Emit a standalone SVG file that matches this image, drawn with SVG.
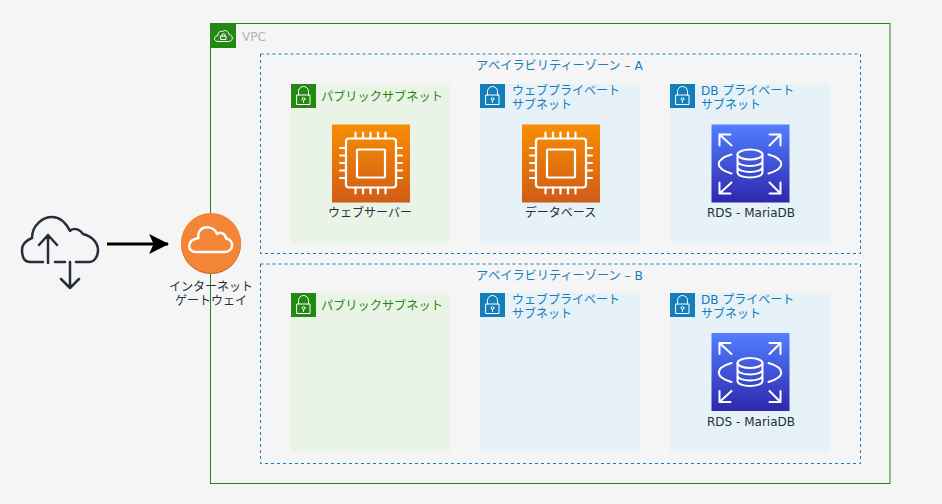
<svg xmlns="http://www.w3.org/2000/svg" width="942" height="504" viewBox="0 0 942 504">
<style>
text{font-family:"DejaVu Sans","Noto Sans CJK JP",sans-serif;font-size:12px}
.az{fill:none;stroke:#147eba;stroke-width:1;stroke-dasharray:3 3}
.azt{fill:#147eba;text-anchor:middle;font-size:12.2px}
.pub{fill:#e9f3e6}.pri{fill:#e6f2f8}
.pubt{fill:#248814;font-size:12.2px}.prit{fill:#147eba}
.lab{fill:#232f3e;text-anchor:middle}
.w{fill:none;stroke:#fff;stroke-linecap:round;stroke-linejoin:round}
.ink{fill:none;stroke:#232f3e;stroke-width:2.5;stroke-linecap:round;stroke-linejoin:round}
</style>
<defs>
<linearGradient id="ec2g" x1="0" y1="1" x2="0" y2="0"><stop offset="0" stop-color="#d05c17"/><stop offset="1" stop-color="#f78e04"/></linearGradient>
<linearGradient id="rdsg" x1="0" y1="1" x2="0" y2="0"><stop offset="0" stop-color="#2e27ad"/><stop offset="1" stop-color="#527fff"/></linearGradient>
<marker id="arrow" markerUnits="userSpaceOnUse" markerWidth="20" markerHeight="20" refX="17" refY="9" orient="auto" viewBox="0 0 18 18"><path d="M0 0L18 9L0 18L4 9Z" fill="#000"/></marker>
<g id="lock"><path class="w" stroke-width="1" d="M7.500 11V7.500A5 5 0 0 1 17.500 7.500V11"/><rect class="w" stroke-width="1" x="6" y="11" width="13" height="9.500"/><circle class="w" cx="12.500" cy="15" r="1.400"/><path class="w" d="M12.500 16.400V18.500"/></g>
<g id="ec2">
<rect width="78" height="78" fill="url(#ec2g)"/>
<rect class="w" stroke-width="2.200" x="14" y="14" width="50" height="49" rx="3"/>
<rect class="w" stroke-width="2.200" x="25" y="25" width="28" height="28" rx="1"/>
<path class="w" stroke-width="2.200" stroke-linecap="butt" d="M23.500 8V14M31 8V14M38.500 8V14M46 8V14M53.500 8V14M23.500 63V69M31 63V69M38.500 63V69M46 63V69M53.500 63V69M8 23.500H14M8 31H14M8 38.500H14M8 46H14M8 53.500H14M64 23.500H70M64 31H70M64 38.500H70M64 46H70M64 53.500H70"/>
</g>
<g id="rds">
<rect width="78" height="78" fill="url(#rdsg)"/>
<path class="w" stroke-width="2" stroke-linecap="butt" d="M8 21V10H19M8 10L20 21M69 21V10H58M69 10L58 21M8 58V69H19M8 69L20 58M69 58V69H58M69 69L58 58"/>
<path class="w" stroke-width="2" d="M20 30C3 35 3 44 20 49M57 30C74 35 74 44 57 49"/>
<ellipse class="w" stroke-width="2" cx="38.500" cy="30" rx="12.500" ry="5"/>
<path class="w" stroke-width="2" d="M26 30V48C26 51 32 53 38.500 53S51 51 51 48V30M26 36.500C26 39.500 32 41.500 38.500 41.500S51 39.500 51 36.500M26 42.500C26 45.500 32 47.500 38.500 47.500S51 45.500 51 42.500"/>
</g>
</defs>
<rect width="942" height="504" fill="#f5f5f5"/>
<g id="vpc">
<rect x="210.500" y="23.500" width="679.500" height="460" fill="none" stroke="#248814"/>
<rect x="211" y="24" width="25" height="24" fill="#248814"/>
<path class="w" stroke-width="1" d="M218 41.500H228.500C233.500 41.500 233.500 35 229 34.500C228.500 30.500 224.500 29.500 222.500 31.500C219.500 30.500 217.500 33 218 35.500C213 36.500 213.500 41.500 218 41.500Z"/>
<rect class="w" stroke-width="1" x="221" y="36" width="5" height="3.500"/>
<path class="w" stroke-width="1" d="M222 36V35.200A1.500 1.500 0 0 1 225 35.200V36"/>
<text x="242" y="41" fill="#aab7b8">VPC</text>
</g>
<g id="az-a"><rect class="az" x="260.500" y="54" width="600" height="199.500"/><text class="azt" x="559.500" y="70">アベイラビリティーゾーン – A</text></g>
<g id="az-b"><rect class="az" x="260.500" y="264" width="600" height="199.500"/><text class="azt" x="559.500" y="280">アベイラビリティーゾーン – B</text></g>
<g id="subnet-pub-a"><rect class="pub" x="291" y="84" width="159" height="159"/><rect x="291" y="84" width="25" height="24" fill="#248814"/><use href="#lock" x="291" y="84"/><text class="pubt" x="321" y="101">パブリックサブネット</text></g>
<g id="subnet-web-a"><rect class="pri" x="480" y="84" width="160" height="159"/><rect x="480" y="84" width="25" height="24" fill="#147eba"/><use href="#lock" x="480" y="84"/><text class="prit" x="512" y="95">ウェブプライベート</text><text class="prit" x="512" y="109">サブネット</text></g>
<g id="subnet-db-a"><rect class="pri" x="670" y="84" width="160" height="159"/><rect x="670" y="84" width="25" height="24" fill="#147eba"/><use href="#lock" x="670" y="84"/><text class="prit" x="701" y="95">DB プライベート</text><text class="prit" x="701" y="109">サブネット</text></g>
<g id="subnet-pub-b"><rect class="pub" x="291" y="293" width="159" height="159"/><rect x="291" y="293" width="25" height="24" fill="#248814"/><use href="#lock" x="291" y="293"/><text class="pubt" x="321" y="310">パブリックサブネット</text></g>
<g id="subnet-web-b"><rect class="pri" x="480" y="293" width="160" height="159"/><rect x="480" y="293" width="25" height="24" fill="#147eba"/><use href="#lock" x="480" y="293"/><text class="prit" x="512" y="304">ウェブプライベート</text><text class="prit" x="512" y="318">サブネット</text></g>
<g id="subnet-db-b"><rect class="pri" x="670" y="293" width="160" height="159"/><rect x="670" y="293" width="25" height="24" fill="#147eba"/><use href="#lock" x="670" y="293"/><text class="prit" x="701" y="304">DB プライベート</text><text class="prit" x="701" y="318">サブネット</text></g>
<g id="web-server"><use href="#ec2" x="332" y="124.500"/><text class="lab" x="370" y="217">ウェブサーバー</text></g>
<g id="database"><use href="#ec2" x="522" y="124.500"/><text class="lab" x="560.500" y="217">データベース</text></g>
<g id="rds-a"><use href="#rds" x="711.500" y="124.500"/><text class="lab" x="751" y="217">RDS - MariaDB</text></g>
<g id="rds-b"><use href="#rds" x="711.500" y="333"/><text class="lab" x="751" y="426">RDS - MariaDB</text></g>
<g id="internet-gateway">
<circle cx="211" cy="244" r="30" fill="#b8652b"/>
<circle cx="211" cy="243" r="30" fill="#f58536"/>
<path class="w" stroke-width="2.500" d="M196 252H224C234 252 235 240 226 238.500C226 234 220 231 217 234C214 226 203 225 199 232C198 234 198 236 198.500 238C186 240 187 252 196 252Z"/>
<text class="lab" x="211" y="291">インターネット</text>
<text class="lab" x="211" y="305">ゲートウェイ</text>
</g>
<g id="cloud">
<path class="ink" d="M43 262H30C24 262 22 256 22 250C22 244 27 240 32 238C32 225 43 217 52 217C60 217 66 223 70 231C72 228 79 228 83 234C92 236 98 243 98 250C98 258 93 262 90 262H76M55 262H65"/>
<path class="ink" d="M48 263V235M39 245L48 235L57 245M70 262V288M61 279L70 288L79 279"/>
</g>
<g id="connectors"><path d="M107 244H168" fill="none" stroke="#000" stroke-width="3" marker-end="url(#arrow)"/></g>
</svg>
